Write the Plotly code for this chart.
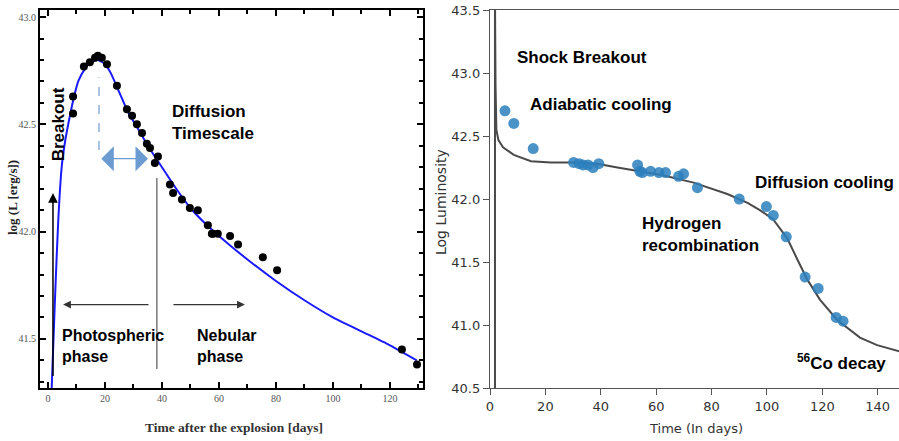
import plotly.graph_objects as go

# ---------------- Left panel data ----------------
left_obs_days = [8.8, 8.8, 12.6, 14.7, 16.5, 17.5, 18.9, 20.7, 24.2, 27.7, 29.5, 31.2,
                 33.0, 34.7, 35.8, 37.5, 38.6, 42.8, 43.9, 47.0, 49.8, 52.6, 56.1, 57.5,
                 57.9, 59.6, 63.9, 66.7, 75.4, 80.4, 124.2, 129.5]
left_obs_logL = [42.63, 42.55, 42.77, 42.79, 42.81, 42.82, 42.81, 42.78, 42.68, 42.57, 42.54, 42.50,
                 42.46, 42.41, 42.39, 42.32, 42.35, 42.22, 42.18, 42.15, 42.11, 42.10, 42.03, 41.99,
                 41.99, 41.99, 41.98, 41.94, 41.88, 41.82, 41.45, 41.38]
left_model_days = [1.3, 2.5, 3.6, 4.8, 6.0, 7.4, 9.0, 10.6, 13.0, 15.0, 17.5, 20.0, 22.0,
                   25.0, 28.0, 32.0, 36.0, 40.0, 45.0, 50.0, 55.0, 60.0, 70.0, 80.0, 90.0,
                   100.0, 110.0, 120.0, 129.4]
left_model_logL = [41.27, 41.70, 42.05, 42.30, 42.42, 42.52, 42.62, 42.70, 42.76, 42.79, 42.80, 42.78, 42.74,
                   42.65, 42.56, 42.47, 42.38, 42.30, 42.20, 42.11, 42.04, 41.98, 41.87, 41.77, 41.68,
                   41.60, 41.535, 41.47, 41.40]
left_xticks = [0, 20, 40, 60, 80, 100, 120]
left_yticks = [41.5, 42.0, 42.5, 43.0]

# ---------------- Right panel data ----------------
right_obs_days = [5.4, 8.6, 15.6, 30.2, 32.2, 33.6, 35.4, 37.2, 39.3, 53.3, 54.1, 55.0,
                  58.0, 61.0, 63.4, 68.1, 69.9, 74.9, 90.0, 99.8, 102.3, 107.0, 113.8,
                  118.5, 125.0, 127.5]
right_obs_logL = [42.70, 42.60, 42.40, 42.29, 42.28, 42.27, 42.27, 42.25, 42.28, 42.27, 42.22, 42.21,
                  42.22, 42.21, 42.21, 42.18, 42.20, 42.09, 42.00, 41.94, 41.87, 41.70, 41.38,
                  41.29, 41.06, 41.03]
right_model_days = [1.8, 1.8, 2.0, 2.3, 3.0, 4.7, 8.6, 14.8, 22.0, 30.0, 38.7, 46.0, 53.3,
                    62.0, 73.5, 85.7, 93.0, 97.6, 102.2, 107.3, 111.0, 114.6, 119.2, 125.4,
                    133.6, 139.8, 148.0]
right_model_logL = [40.50, 43.60, 42.90, 42.55, 42.47, 42.41, 42.35, 42.30, 42.29, 42.29, 42.28, 42.25, 42.22,
                    42.19, 42.13, 42.04, 41.97, 41.91, 41.84, 41.69, 41.52, 41.36, 41.20, 41.04,
                    40.90, 40.84, 40.79]
right_xticks = [0, 20, 40, 60, 80, 100, 120, 140]
right_yticks = [40.5, 41.0, 41.5, 42.0, 42.5, 43.0, 43.5]

W, H = 899, 441
def px(xp):
    return xp / W
def py(yp):
    return 1 - yp / H

fig = go.Figure()

fig.add_trace(go.Scatter(x=left_model_days, y=left_model_logL, mode="lines",
                         line=dict(color="#1a1aff", width=2, shape="spline", smoothing=0.6),
                         xaxis="x", yaxis="y", showlegend=False))
fig.add_trace(go.Scatter(x=left_obs_days, y=left_obs_logL, mode="markers",
                         marker=dict(color="black", size=8),
                         xaxis="x", yaxis="y", showlegend=False))

fig.add_trace(go.Scatter(x=right_model_days, y=right_model_logL, mode="lines",
                         line=dict(color="#4a4a4a", width=2),
                         xaxis="x2", yaxis="y2", showlegend=False))
fig.add_trace(go.Scatter(x=right_obs_days, y=right_obs_logL, mode="markers",
                         marker=dict(color="#2b7fbd", size=11, opacity=0.85),
                         xaxis="x2", yaxis="y2", showlegend=False))

serif_tick = dict(family="Liberation Serif", size=10, color="#555555")
sans_tick = dict(family="DejaVu Sans", size=13, color="#333333")

fig.update_layout(
    width=W, height=H,
    margin=dict(l=0, r=0, t=0, b=0, autoexpand=False),
    paper_bgcolor="white", plot_bgcolor="white",
    xaxis=dict(domain=[px(40), px(423)], range=[-2.8, 131.6], anchor="y", automargin=False,
               showline=True, linecolor="black", linewidth=2, mirror="ticks",
               ticks="inside", ticklen=6, tickwidth=1.5, tickcolor="black",
               tickvals=left_xticks, tickfont=serif_tick, showgrid=False, zeroline=False,
               minor=dict(dtick=10, tick0=0, ticks="inside", ticklen=4, tickcolor="black", tickwidth=1.5)),
    yaxis=dict(domain=[py(388), py(10)], range=[41.271, 43.033], anchor="x", automargin=False,
               showline=True, linecolor="black", linewidth=2, mirror="ticks",
               ticks="inside", ticklen=6, tickwidth=1.5, tickcolor="black",
               tickvals=left_yticks, ticktext=["41.5", "42.0", "42.5", "43.0"],
               tickfont=serif_tick, showgrid=False, zeroline=False,
               minor=dict(dtick=0.1, tick0=41.5, ticks="inside", ticklen=4, tickcolor="black", tickwidth=1.5)),
    xaxis2=dict(domain=[px(490), 1.0], range=[0, 147.7], anchor="y2", automargin=False,
                showline=True, linecolor="#555555", linewidth=1.3, mirror=True,
                ticks="outside", ticklen=6, tickcolor="#555555", tickwidth=1.2,
                tickvals=right_xticks, tickfont=sans_tick, showgrid=False, zeroline=False),
    yaxis2=dict(domain=[py(388), py(10)], range=[40.5, 43.5], anchor="x2", automargin=False,
                showline=True, linecolor="#555555", linewidth=1.3, mirror=False,
                ticks="outside", ticklen=6, tickcolor="#555555", tickwidth=1.2,
                tickvals=right_yticks, ticktext=["40.5", "41.0", "41.5", "42.0", "42.5", "43.0", "43.5"],
                tickfont=sans_tick, showgrid=False, zeroline=False),
)

bold17 = dict(family="Liberation Sans", size=17, color="black")
bold16 = dict(family="Liberation Sans", size=16, color="black")
C = dict(xanchor="center", yanchor="middle")

annotations = [
    # axis titles
    dict(text="<b>Time after the explosion [days]</b>", xref="paper", yref="paper",
         x=px(234), y=py(427), showarrow=False, **C,
         font=dict(family="Liberation Serif", size=13.5, color="#333333")),
    dict(text="<b>log (L [erg/s])</b>", xref="paper", yref="paper",
         x=px(12), y=py(198), showarrow=False, textangle=-90, **C,
         font=dict(family="Liberation Serif", size=13, color="#222222")),
    dict(text="Time (In days)", xref="paper", yref="paper",
         x=px(696), y=py(428), showarrow=False, **C,
         font=dict(family="DejaVu Sans", size=13, color="#333333")),
    dict(text="Log Luminosity", xref="paper", yref="paper",
         x=px(441), y=py(202), showarrow=False, textangle=-90, **C,
         font=dict(family="DejaVu Sans", size=14, color="#333333")),
    # left panel texts
    dict(text="<b>Breakout</b>", xref="x", yref="y", x=3.5, y=42.50, showarrow=False,
         textangle=-90, font=bold17, **C),
    dict(text="<b>Diffusion<br>Timescale</b>", xref="x", yref="y", x=42.8, y=42.51,
         xanchor="left", yanchor="middle", showarrow=False, align="left", font=bold17),
    dict(text="<b>Photospheric<br>phase</b>", xref="x", yref="y", x=4.2, y=41.467,
         xanchor="left", yanchor="middle", showarrow=False, align="left", font=bold16),
    dict(text="<b>Nebular<br>phase</b>", xref="x", yref="y", x=51.6, y=41.467,
         xanchor="left", yanchor="middle", showarrow=False, align="left", font=bold16),
    # left panel arrows
    dict(xref="x", yref="y", axref="x", ayref="y", x=1.75, y=42.18, ax=1.75, ay=41.32,
         showarrow=True, arrowhead=2, arrowsize=1.3, arrowwidth=1.5, arrowcolor="black", text=""),
    dict(xref="x", yref="y", axref="x", ayref="y", x=5.3, y=41.66, ax=35.8, ay=41.66,
         showarrow=True, arrowhead=2, arrowsize=1.3, arrowwidth=1.2, arrowcolor="#333333", text=""),
    dict(xref="x", yref="y", axref="x", ayref="y", x=69.1, y=41.66, ax=43.5, ay=41.66,
         showarrow=True, arrowhead=2, arrowsize=1.3, arrowwidth=1.2, arrowcolor="#333333", text=""),
    dict(xref="x", yref="y", axref="x", ayref="y", x=35.1, y=42.34, ax=18.2, ay=42.34,
         showarrow=True, arrowhead=1, arrowside="end+start", arrowsize=3.2, arrowwidth=1.3,
         arrowcolor="#6a9bd1", text=""),
    # right panel texts
    dict(text="<b>Shock Breakout</b>", xref="x2", yref="y2", x=9.0, y=43.12,
         xanchor="left", yanchor="middle", showarrow=False, font=bold17),
    dict(text="<b>Adiabatic cooling</b>", xref="x2", yref="y2", x=13.7, y=42.75,
         xanchor="left", yanchor="middle", showarrow=False, font=bold17),
    dict(text="<b>Diffusion cooling</b>", xref="x2", yref="y2", x=95.1, y=42.13,
         xanchor="left", yanchor="middle", showarrow=False, font=bold17),
    dict(text="<b>Hydrogen<br>recombination</b>", xref="x2", yref="y2", x=54.0, y=41.72,
         xanchor="left", yanchor="middle", showarrow=False, align="left", font=bold17),
    dict(text="<b><sup>56</sup>Co decay</b>", xref="x2", yref="y2", x=110.2, y=40.71,
         xanchor="left", yanchor="middle", showarrow=False, font=bold17),
]
fig.update_layout(annotations=annotations)

shapes = [
    dict(type="line", xref="x", yref="y", x0=17.9, x1=17.9, y0=42.38, y1=42.72,
         line=dict(color="#8fb0d8", width=1.5, dash="dash")),
    dict(type="line", xref="x", yref="y", x0=38.2, x1=38.2, y0=41.36, y1=42.25,
         line=dict(color="#777777", width=1.5)),
]
fig.update_layout(shapes=shapes)

fig.write_html("out.html", config={"displayModeBar": False},
               post_script="document.body.style.margin='0px';")
